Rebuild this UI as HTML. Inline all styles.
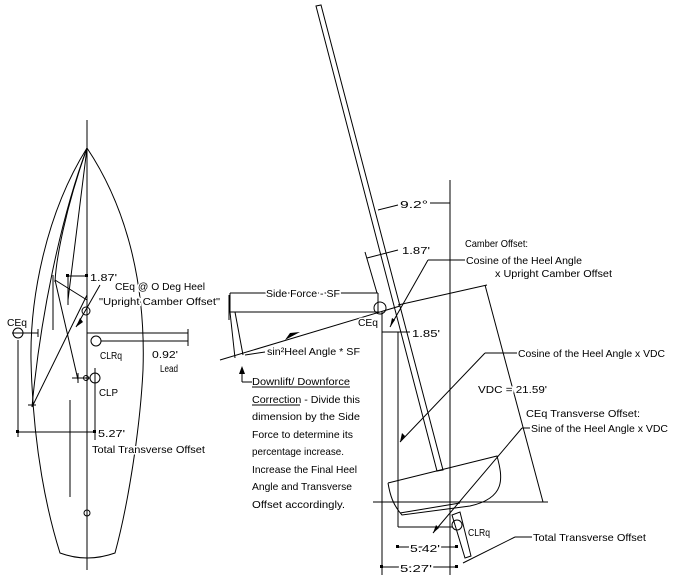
<!DOCTYPE html>
<html><head><meta charset="utf-8"><style>
html,body{margin:0;padding:0;background:#fff;}
svg{display:block;}
text{font-family:"Liberation Sans",sans-serif;font-size:10.5px;fill:#000;}
.bg{stroke:#fff;stroke-width:3px;paint-order:stroke;}
</style></head><body>
<svg width="677" height="584" viewBox="0 0 677 584" xmlns="http://www.w3.org/2000/svg">
<g fill="none" stroke="#000" stroke-width="1">
<!-- LEFT: hull plan -->
<line x1="87" y1="120" x2="87" y2="570"/>
<path d="M87,148 C45,215 30,300 31,360 C33,450 48,515 60,553 Q87,563 115,553 C128,505 140,430 143,370 C146,280 125,205 87,148"/>
<path d="M87,148 C60,220 40,320 32,407"/>
<path d="M87,148 C65,210 56,260 55,282"/>
<path d="M87,148 L68,300"/>
<line x1="55" y1="280" x2="87" y2="300"/>
<line x1="55" y1="280" x2="78" y2="380"/>
<line x1="32" y1="407" x2="87" y2="295"/>
<line x1="53" y1="275" x2="53" y2="330"/>
<line x1="68" y1="275" x2="68" y2="305"/>
<line x1="68" y1="276" x2="87" y2="276"/>
<line x1="100" y1="285" x2="76" y2="327"/>
<circle cx="86" cy="311" r="4"/>
<line x1="87" y1="333" x2="188" y2="333"/>
<circle cx="96" cy="341" r="5"/>
<line x1="101" y1="341" x2="188" y2="341"/>
<line x1="188" y1="329" x2="188" y2="346"/>
<circle cx="18" cy="333" r="5"/>
<line x1="12" y1="333" x2="38" y2="333"/>
<line x1="38" y1="329" x2="38" y2="337"/>
<line x1="18" y1="340" x2="18" y2="437"/>
<line x1="28" y1="405" x2="36" y2="405"/>
<circle cx="95" cy="378" r="5"/>
<circle cx="86" cy="378" r="2.5"/>
<line x1="72" y1="378" x2="90" y2="378"/>
<line x1="78" y1="373" x2="78" y2="383"/>
<line x1="95" y1="368" x2="95" y2="440"/>
<line x1="18" y1="432" x2="95" y2="432"/>
<line x1="70" y1="400" x2="70" y2="497"/>
<circle cx="87" cy="513" r="3"/>
<line x1="229" y1="295" x2="229" y2="320"/>
<!-- RIGHT: heeled boat -->
<line x1="450" y1="180" x2="450" y2="575"/>
<polygon points="316,6 321,5 443,470 437,471"/>
<path d="M388,483 L497,456 C503,478 506,498 470,506 L402,515 C393,505 390,495 388,483"/>
<line x1="400" y1="513" x2="460" y2="503"/>
<polygon points="452,515 460,512 471,556 465,558"/>
<line x1="373" y1="502" x2="548" y2="502"/>
<line x1="398" y1="332" x2="398" y2="527"/>
<line x1="398" y1="527" x2="452" y2="527"/>
<line x1="382" y1="312" x2="382" y2="575"/>
<line x1="398" y1="547" x2="457" y2="547"/>
<line x1="382" y1="567" x2="457" y2="567"/>
<line x1="382" y1="332" x2="410" y2="332"/>
<line x1="398" y1="305" x2="487" y2="285"/>
<line x1="485" y1="285" x2="543" y2="502"/>
<circle cx="380" cy="308" r="6"/>
<line x1="230" y1="293" x2="378" y2="293"/>
<line x1="230" y1="293" x2="230" y2="312"/>
<line x1="378" y1="293" x2="378" y2="312"/>
<line x1="230" y1="312" x2="380" y2="312"/>
<line x1="400" y1="306" x2="220" y2="360"/>
<line x1="230" y1="312" x2="235" y2="358"/>
<line x1="235" y1="312" x2="243" y2="355"/>
<line x1="245" y1="355" x2="265" y2="352"/>
<line x1="242" y1="368" x2="242" y2="382"/>
<line x1="242" y1="382" x2="252" y2="382"/>
<line x1="378" y1="210" x2="398" y2="205"/>
<line x1="430" y1="203" x2="450" y2="203"/>
<line x1="367" y1="258" x2="398" y2="250"/>
<line x1="365" y1="252" x2="377" y2="293"/>
<line x1="428" y1="260" x2="465" y2="260"/>
<line x1="428" y1="260" x2="390" y2="327"/>
<line x1="485" y1="353" x2="517" y2="353"/>
<line x1="485" y1="353" x2="400" y2="442"/>
<line x1="522" y1="428" x2="530" y2="428"/>
<line x1="522" y1="428" x2="433" y2="533"/>
<circle cx="457" cy="525" r="5"/>
<line x1="515" y1="537" x2="532" y2="537"/>
<line x1="515" y1="537" x2="463" y2="563"/>
<line x1="252" y1="387" x2="350" y2="387"/>
<line x1="252" y1="405" x2="300" y2="405"/>
</g>
<g fill="#000">
<polygon points="300,332 285,340 290,333"/>
<polygon points="242,366 239,374 245,374"/>
<polygon points="76,327 80,318 83,322"/>
<polygon points="390,327 392,318 395,320"/>
<polygon points="400,442 402,433 405,436"/>
<polygon points="433,533 436,525 439,528"/>
<rect x="66" y="274" width="3" height="3"/><rect x="85" y="274" width="3" height="3"/>
<rect x="16" y="430" width="3" height="3"/><rect x="93" y="430" width="3" height="3"/>
<rect x="380" y="565" width="3" height="3"/><rect x="455" y="565" width="3" height="3"/>
<rect x="396" y="545" width="3" height="3"/><rect x="455" y="545" width="3" height="3"/>
</g>
<g class="bg">
<text x="90" y="281" textLength="27" lengthAdjust="spacingAndGlyphs">1.87'</text>
<text x="115" y="290" textLength="90" lengthAdjust="spacingAndGlyphs">CEq @ O Deg Heel</text>
<text x="99" y="305" textLength="121" lengthAdjust="spacingAndGlyphs">"Upright Camber Offset"</text>
<text x="7" y="326" textLength="20" lengthAdjust="spacingAndGlyphs">CEq</text>
<text x="100" y="359" textLength="22" lengthAdjust="spacingAndGlyphs">CLRq</text>
<text x="152" y="358" textLength="26" lengthAdjust="spacingAndGlyphs">0.92'</text>
<text x="160" y="372" textLength="18" lengthAdjust="spacingAndGlyphs">Lead</text>
<text x="99" y="396" textLength="19" lengthAdjust="spacingAndGlyphs">CLP</text>
<text x="98" y="437" textLength="27" lengthAdjust="spacingAndGlyphs">5.27'</text>
<text x="92" y="453" textLength="113" lengthAdjust="spacingAndGlyphs">Total Transverse Offset</text>
<text x="266" y="297" textLength="74" lengthAdjust="spacingAndGlyphs">Side Force - SF</text>
<text x="358" y="326" textLength="20" lengthAdjust="spacingAndGlyphs">CEq</text>
<text x="267" y="355" textLength="93" lengthAdjust="spacingAndGlyphs">sin²Heel Angle * SF</text>
</g>
<text x="252" y="385" textLength="98" lengthAdjust="spacingAndGlyphs">Downlift/ Downforce</text>
<text x="252" y="403" textLength="108" lengthAdjust="spacingAndGlyphs">Correction - Divide this</text>
<text x="252" y="420" textLength="108" lengthAdjust="spacingAndGlyphs">dimension by the Side</text>
<text x="252" y="438" textLength="101" lengthAdjust="spacingAndGlyphs">Force to determine its</text>
<text x="252" y="455" textLength="92" lengthAdjust="spacingAndGlyphs">percentage increase.</text>
<text x="252" y="473" textLength="105" lengthAdjust="spacingAndGlyphs">Increase the Final Heel</text>
<text x="252" y="490" textLength="100" lengthAdjust="spacingAndGlyphs">Angle and Transverse</text>
<text x="252" y="508" textLength="93" lengthAdjust="spacingAndGlyphs">Offset accordingly.</text>
<g class="bg">
<text x="400" y="208" textLength="28" lengthAdjust="spacingAndGlyphs">9.2°</text>
<text x="402" y="254" textLength="28" lengthAdjust="spacingAndGlyphs">1.87'</text>
<text x="412" y="337" textLength="28" lengthAdjust="spacingAndGlyphs">1.85'</text>
<text x="465" y="247" textLength="63" lengthAdjust="spacingAndGlyphs">Camber Offset:</text>
<text x="466" y="264" textLength="116" lengthAdjust="spacingAndGlyphs">Cosine of the Heel Angle</text>
<text x="495" y="277" textLength="117" lengthAdjust="spacingAndGlyphs">x Upright Camber Offset</text>
<text x="518" y="357" textLength="147" lengthAdjust="spacingAndGlyphs">Cosine of the Heel Angle x VDC</text>
<text x="478" y="393" textLength="69" lengthAdjust="spacingAndGlyphs">VDC = 21.59'</text>
<text x="526" y="417" textLength="114" lengthAdjust="spacingAndGlyphs">CEq Transverse Offset:</text>
<text x="531" y="432" textLength="137" lengthAdjust="spacingAndGlyphs">Sine of the Heel Angle x VDC</text>
<text x="468" y="536" textLength="22" lengthAdjust="spacingAndGlyphs">CLRq</text>
<text x="533" y="541" textLength="113" lengthAdjust="spacingAndGlyphs">Total Transverse Offset</text>
<text x="410" y="552" textLength="30" lengthAdjust="spacingAndGlyphs">5.42'</text>
<text x="400" y="572" textLength="32" lengthAdjust="spacingAndGlyphs">5.27'</text>
</g>
</svg>
</body></html>
